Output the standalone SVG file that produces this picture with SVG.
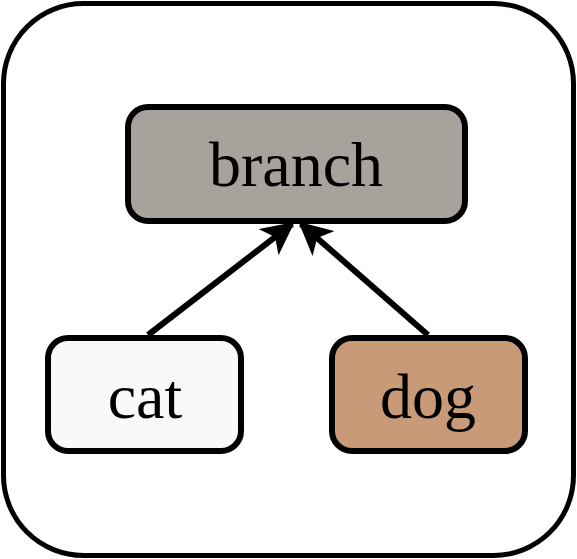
<svg xmlns="http://www.w3.org/2000/svg" width="577" height="559" viewBox="0 0 577 559">
<style>
.node{stroke:#000;stroke-width:6}
.lbl{font-family:"Liberation Serif","Times New Roman",serif;font-size:64px;text-anchor:middle;fill:#000}
.edge{stroke:#000;stroke-width:6;fill:none}
</style>
<defs>
<marker id="ah" viewBox="0 0 10 10" refX="9" refY="5" markerWidth="5.5" markerHeight="5.5" markerUnits="strokeWidth" orient="auto">
<path d="M0,0 L10,5 L0,10 L2.5,5 z" fill="#000"/>
</marker>
</defs>
<rect x="3.5" y="3.5" width="570" height="552" rx="80" fill="#fff" stroke="#000" stroke-width="5"/>
<g id="connectors">
<line class="edge" x1="148" y1="335" x2="292" y2="224" marker-end="url(#ah)"/>
<line class="edge" x1="428" y1="335" x2="301" y2="224" marker-end="url(#ah)"/>
</g>
<g id="branch">
<rect class="node" x="128" y="107" width="337" height="114" rx="20" fill="#a8a29c"/>
<text class="lbl" x="296" y="186">branch</text>
</g>
<g id="cat">
<rect class="node" x="48" y="338" width="193" height="113" rx="20" fill="#f9f9f9"/>
<text class="lbl" x="145" y="418">cat</text>
</g>
<g id="dog">
<rect class="node" x="332" y="338" width="193" height="113" rx="20" fill="#c99a78"/>
<text class="lbl" x="428" y="418">dog</text>
</g>
</svg>
